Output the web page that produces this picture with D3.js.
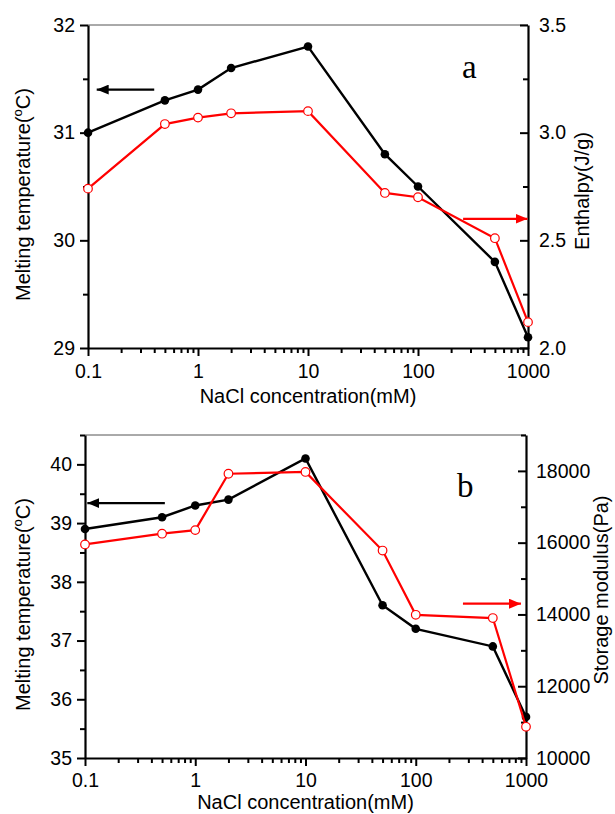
<!DOCTYPE html>
<html>
<head>
<meta charset="utf-8">
<script src="https://cdn.jsdelivr.net/npm/d3@7"></script>
<style>
  body { margin: 0; background: white; }
  text { font-family: "Liberation Sans", Arial, sans-serif; }
</style>
</head>
<body>
<div id="container"></div>
<script>
let w = 615;
let h = 814;

// NaCl concentration (mM)
let conc = [0.1, 0.5, 1, 2, 10, 50, 100, 500, 1000];

// panel a
let meltA = [31.0, 31.3, 31.4, 31.6, 31.8, 30.8, 30.5, 29.8, 29.1];
let enthalpy = [2.74, 3.04, 3.07, 3.09, 3.10, 2.72, 2.70, 2.51, 2.12];

// panel b
let meltB = [38.9, 39.1, 39.3, 39.4, 40.1, 37.6, 37.2, 36.9, 35.7];
let storage = [15950, 16250, 16350, 17920, 17970, 15780, 13990, 13900, 10870];

let xTicks = [0.1, 1, 10, 100, 1000];
let xTickLabels = ["0.1", "1", "10", "100", "1000"];
let yTicksA = [29, 30, 31, 32];
let yTicksAR = [2.0, 2.5, 3.0, 3.5];
let yTicksB = [35, 36, 37, 38, 39, 40];
let yTicksBR = [10000, 12000, 14000, 16000, 18000];

// arrows: [x0, x1, y] in data units
let arrowsA = { left: [0.4, 0.12, 31.4], right: [257, 990, 2.6] };
let arrowsB = { left: [0.53, 0.105, 39.34], right: [268, 900, 14300] };

let minorLog = [];
[0.1, 1, 10, 100].forEach(d => { for (let k = 2; k <= 9; k++) minorLog.push(d * k); });

let viz = d3.select("#container")
  .append("svg")
  .attr("width", w)
  .attr("height", h)
  .style("background-color", "white");

let defs = viz.append("defs");
[["headBlack", "black"], ["headRed", "red"]].forEach(([id, c]) => {
  defs.append("marker")
    .attr("id", id)
    .attr("viewBox", "0 0 12 10")
    .attr("refX", 12).attr("refY", 5)
    .attr("markerWidth", 12).attr("markerHeight", 10)
    .attr("markerUnits", "userSpaceOnUse")
    .attr("orient", "auto")
    .append("path")
    .attr("d", "M0,0 L12,5 L0,10 Z")
    .attr("fill", c);
});

function styleAxis(g) {
  g.select(".domain").attr("stroke-width", 2.2);
  g.selectAll(".tick line").attr("stroke-width", 2);
  g.selectAll(".tick text").style("font-size", "19.5px").attr("fill", "black");
}

function drawPanel(opt) {
  let x = d3.scaleLog().domain([0.1, 1000]).range([opt.left, opt.right]);
  let yL = d3.scaleLinear().domain(opt.yLDomain).range([opt.bottom, opt.top]);
  let yR = d3.scaleLinear().domain(opt.yRDomain).range([opt.bottom, opt.top]);
  let g = viz.append("g");

  // thin top border
  g.append("line")
    .attr("x1", opt.left).attr("x2", opt.right)
    .attr("y1", opt.top).attr("y2", opt.top)
    .attr("stroke", "#555").attr("stroke-width", 1);

  // minor ticks
  g.append("g").attr("transform", `translate(0,${opt.bottom})`)
    .call(d3.axisBottom(x).tickValues(minorLog).tickSize(5).tickFormat(""))
    .call(a => { a.select(".domain").remove(); a.selectAll("line").attr("stroke-width", 2); });
  g.append("g").attr("transform", `translate(${opt.left},0)`)
    .call(d3.axisLeft(yL).tickValues(opt.yLMinor).tickSize(5).tickFormat(""))
    .call(a => { a.select(".domain").remove(); a.selectAll("line").attr("stroke-width", 2); });
  g.append("g").attr("transform", `translate(${opt.right},0)`)
    .call(d3.axisRight(yR).tickValues(opt.yRMinor).tickSize(-5).tickFormat(""))
    .call(a => { a.select(".domain").remove(); a.selectAll("line").attr("stroke-width", 2); });

  // major axes
  g.append("g").attr("transform", `translate(0,${opt.bottom})`)
    .call(d3.axisBottom(x).tickValues(xTicks).tickSize(8).tickSizeOuter(0).tickPadding(opt.xPad)
      .tickFormat((d, i) => xTickLabels[i]))
    .call(styleAxis);
  g.append("g").attr("transform", `translate(${opt.left},0)`)
    .call(d3.axisLeft(yL).tickValues(opt.yLTicks).tickSize(8).tickSizeOuter(0).tickPadding(5)
      .tickFormat(d3.format("d")))
    .call(styleAxis);
  g.append("g").attr("transform", `translate(${opt.right},0)`)
    .call(d3.axisRight(yR).tickValues(opt.yRTicks).tickSize(-8).tickSizeOuter(0).tickPadding(opt.rPad)
      .tickFormat(opt.yRFormat))
    .call(styleAxis);

  // axis titles
  let yt = g.append("text")
    .attr("transform", `translate(30,${(opt.top + opt.bottom) / 2 + 8}) rotate(-90)`)
    .attr("text-anchor", "middle")
    .style("font-size", "20px");
  yt.append("tspan").text("Melting temperature(");
  yt.append("tspan").attr("dy", -8).style("font-size", "13px").text("o");
  yt.append("tspan").attr("dy", 8).text("C)");

  g.append("text")
    .attr("transform", `translate(${opt.rightTitleX},${opt.rightTitleY}) rotate(-90)`)
    .attr("text-anchor", "middle")
    .style("font-size", "20px")
    .text(opt.rightTitle);

  g.append("text")
    .attr("x", (opt.left + opt.right) / 2)
    .attr("y", opt.bottom + opt.xTitleOff)
    .attr("text-anchor", "middle")
    .style("font-size", "20px")
    .text("NaCl concentration(mM)");

  // panel letter
  g.append("text")
    .attr("x", opt.letterX).attr("y", opt.letterY)
    .style("font-family", "'Liberation Serif', 'Times New Roman', serif")
    .style("font-size", "33px")
    .text(opt.letter);

  // arrows
  let al = opt.arrows.left, ar = opt.arrows.right;
  g.append("line")
    .attr("x1", x(al[0])).attr("x2", x(al[1]))
    .attr("y1", yL(al[2])).attr("y2", yL(al[2]))
    .attr("stroke", "black").attr("stroke-width", 2.2)
    .attr("marker-end", "url(#headBlack)");
  g.append("line")
    .attr("x1", x(ar[0])).attr("x2", x(ar[1]))
    .attr("y1", yR(ar[2])).attr("y2", yR(ar[2]))
    .attr("stroke", "red").attr("stroke-width", 2.2)
    .attr("marker-end", "url(#headRed)");

  // series
  let blackPts = conc.map((c, i) => [c, opt.leftVals[i]]);
  let redPts = conc.map((c, i) => [c, opt.rightVals[i]]);

  g.append("path")
    .datum(blackPts)
    .attr("fill", "none").attr("stroke", "black").attr("stroke-width", 2.4)
    .attr("d", d3.line().x(d => x(d[0])).y(d => yL(d[1])));
  g.selectAll(".bdot").data(blackPts).enter().append("circle")
    .attr("cx", d => x(d[0])).attr("cy", d => yL(d[1]))
    .attr("r", 4.3).attr("fill", "black");

  g.append("path")
    .datum(redPts)
    .attr("fill", "none").attr("stroke", "red").attr("stroke-width", 2.2)
    .attr("d", d3.line().x(d => x(d[0])).y(d => yR(d[1])));
  g.selectAll(".rdot").data(redPts).enter().append("circle")
    .attr("cx", d => x(d[0])).attr("cy", d => yR(d[1]))
    .attr("r", 4.3).attr("fill", "white").attr("stroke", "red").attr("stroke-width", 1.2);
}

drawPanel({
  left: 88, right: 528, top: 25, bottom: 348,
  yLDomain: [29, 32], yRDomain: [2.0, 3.5],
  yLTicks: yTicksA, yLMinor: [29.5, 30.5, 31.5],
  yRTicks: yTicksAR, yRMinor: [2.25, 2.75, 3.25],
  yRFormat: d3.format(".1f"),
  leftVals: meltA, rightVals: enthalpy,
  xPad: 8, rPad: 11, xTitleOff: 55,
  rightTitle: "Enthalpy(J/g)", rightTitleX: 589, rightTitleY: 191,
  letter: "a", letterX: 462, letterY: 78,
  arrows: arrowsA
});

drawPanel({
  left: 85, right: 526, top: 435, bottom: 758,
  yLDomain: [35, 40.5], yRDomain: [10000, 19000],
  yLTicks: yTicksB, yLMinor: [35.5, 36.5, 37.5, 38.5, 39.5, 40.5],
  yRTicks: yTicksBR, yRMinor: [11000, 13000, 15000, 17000, 19000],
  yRFormat: d3.format("d"),
  leftVals: meltB, rightVals: storage,
  xPad: 7, rPad: 10, xTitleOff: 51,
  rightTitle: "Storage modulus(Pa)", rightTitleX: 608, rightTitleY: 590,
  letter: "b", letterX: 457, letterY: 497,
  arrows: arrowsB
});
</script>
</body>
</html>
